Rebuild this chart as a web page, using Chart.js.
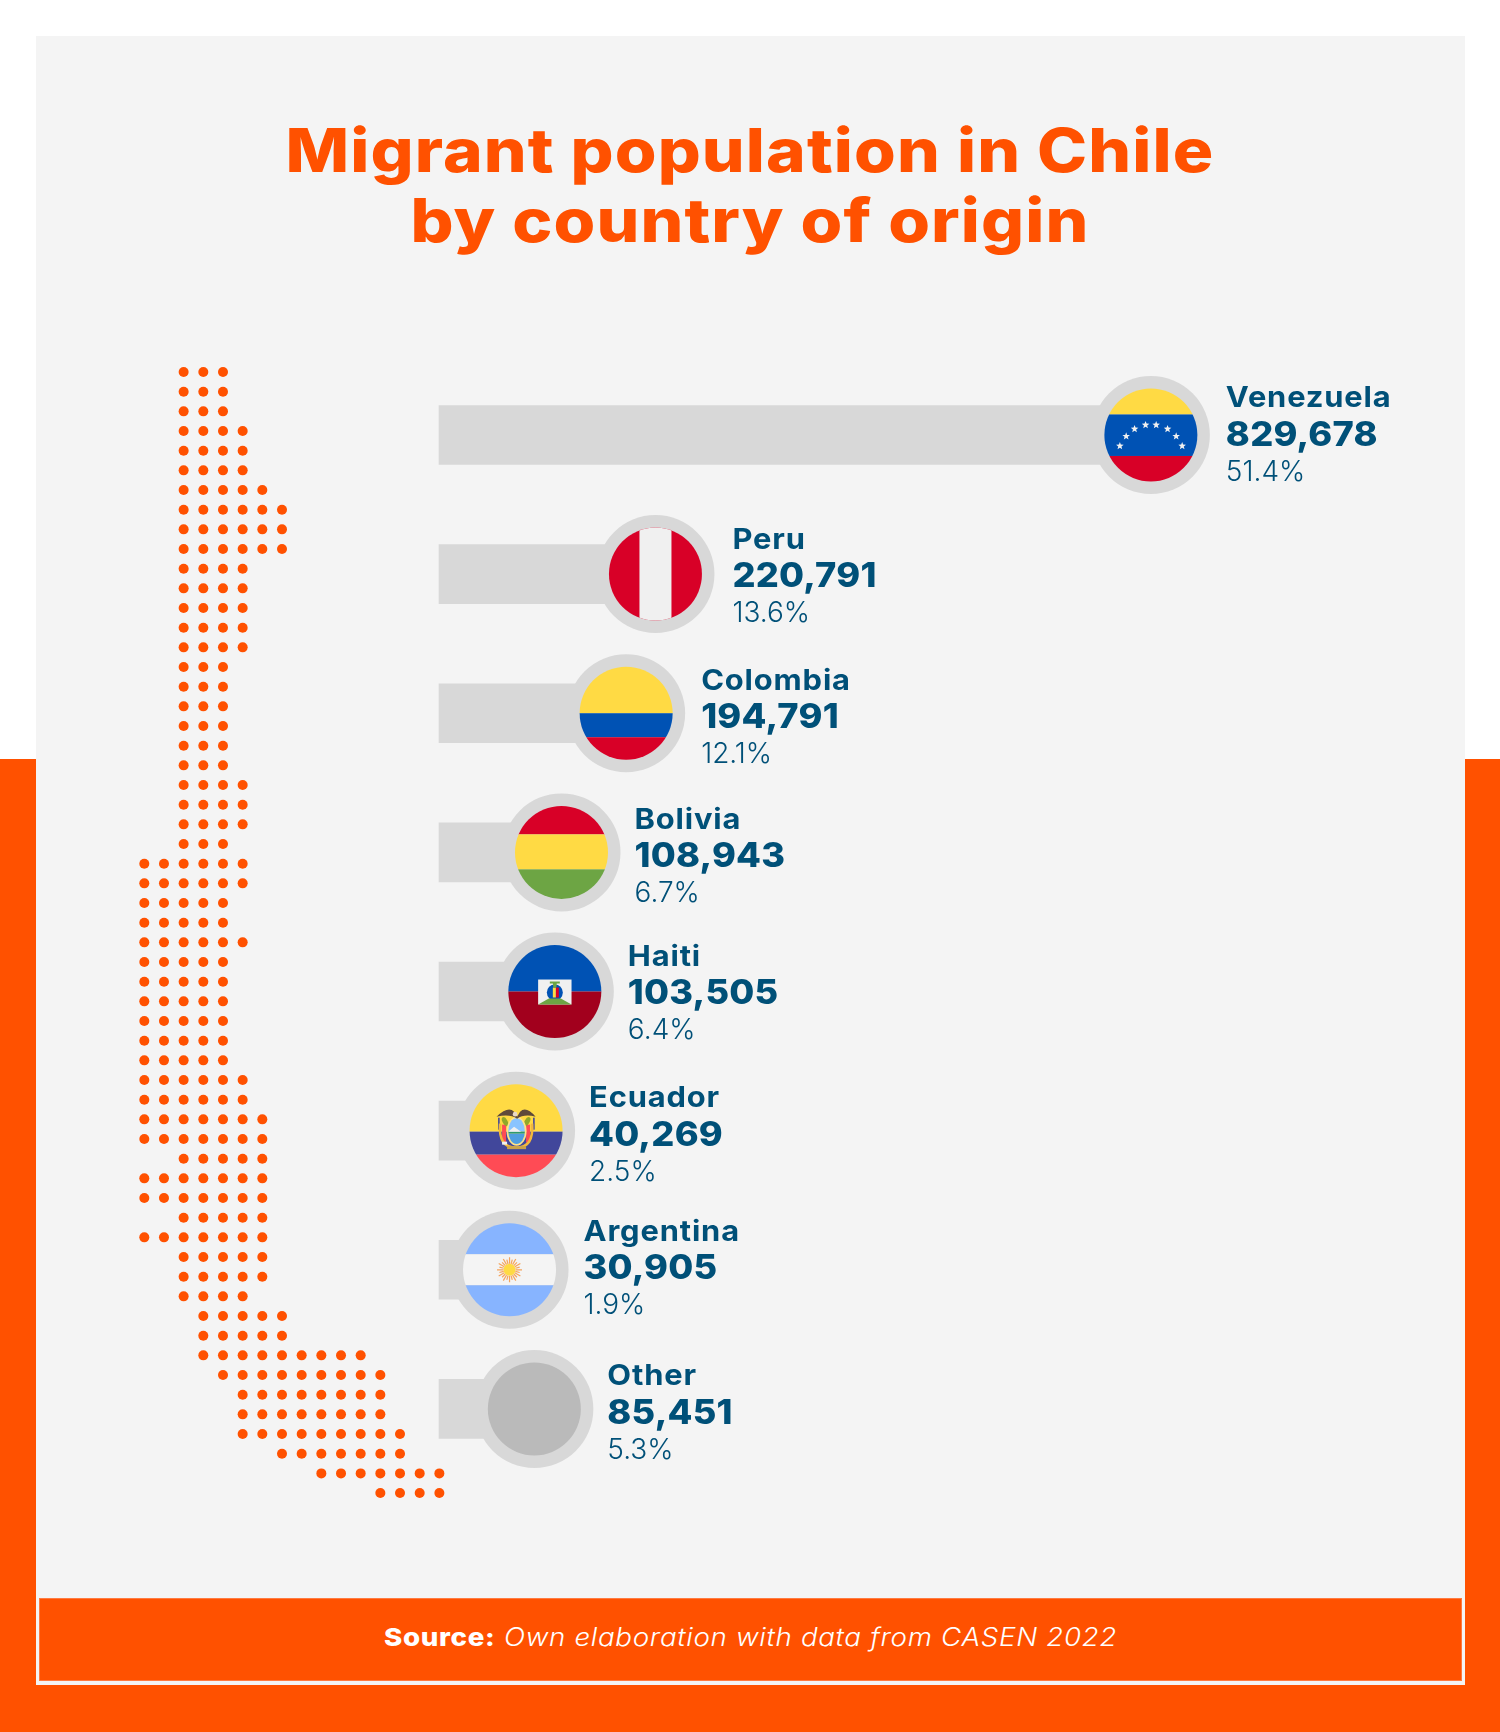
<!DOCTYPE html>
<html>
<head>
<meta charset="utf-8">
<title>Migrant population in Chile by country of origin</title>
<script src="https://cdn.jsdelivr.net/npm/chart.js@4"></script>
<style>
  html, body { margin: 0; padding: 0; background: #fff; }
  #page { position: relative; width: 1500px; height: 1732px; overflow: hidden; background: #fff; font-family: Inter, sans-serif; }
  #band { position: absolute; left: 0; top: 759px; width: 1500px; height: 973px; background: #ff5100; }
  #panel { position: absolute; left: 36px; top: 36px; width: 1429px; height: 1649px; background: #f4f4f4; }
  #footer { position: absolute; left: 39px; top: 1598px; width: 1421px; height: 81px; background: #ff5100; border: 1px solid #ff7a40;
            color: #fff; text-align: center; line-height: 77px; font-size: 25px; letter-spacing: 0.6px; }
  #footer span { display: inline-block; transform: scaleX(1.109); }
  #footer b { font-weight: 800; }
  #footer i { font-weight: 300; }
  #title { position: absolute; left: 0; top: 115px; width: 1500px; text-align: center; color: #ff5100;
           font-size: 60px; font-weight: 800; line-height: 70px; letter-spacing: 1px; transform: scaleX(1.125); }
  canvas { position: absolute; left: 0; top: 0; }
</style>
</head>
<body>
<div id="page">
  <div id="band"></div>
  <div id="panel"></div>
  <div id="title">Migrant population in Chile<br>by country of origin</div>
  <canvas id="chart-dots" width="1500" height="1732"></canvas>
  <canvas id="chart-bars" width="1500" height="1732"></canvas>
  <div id="footer"><span><b>Source:</b> <i>Own elaboration with data from CASEN 2022</i></span></div>
</div>

<script>
const countries = ['Venezuela', 'Peru', 'Colombia', 'Bolivia', 'Haiti', 'Ecuador', 'Argentina', 'Other'];
const migrants  = [829678, 220791, 194791, 108943, 103505, 40269, 30905, 85451];
const shares    = [51.4, 13.6, 12.1, 6.7, 6.4, 2.5, 1.9, 5.3];

// Map dots: one [first column, last column] per row, top to bottom
const dotRows = [
  [2,4],[2,4],[2,4],[2,5],[2,5],[2,5],[2,6],[2,7],[2,7],[2,7],
  [2,5],[2,5],[2,5],[2,5],[2,5],[2,4],[2,4],[2,4],[2,4],[2,4],
  [2,4],[2,5],[2,5],[2,5],[2,4],[0,5],[0,5],[0,4],[0,4],[0,5],
  [0,4],[0,4],[0,4],[0,4],[0,4],[0,4],[0,5],[0,5],[0,6],[0,6],
  [2,6],[0,6],[0,6],[2,6],[0,6],[2,6],[2,6],[2,5],[3,7],[3,7],
  [3,11],[4,12],[5,12],[5,12],[5,13],[7,13],[9,15],[12,15],
];

const ORANGE = '#ff5100';
const BAR_GREY = '#d8d8d8';
const TEXT_BLUE = '#005078';

// The rings sit past the bar tips by a different amount for each row in the original,
// and each text block is nudged on its own too
const ringShift  = [0, 27, 20, 29, 27, 42.5, 44, 22];
const textNudgeX = [0, 2, 0, -2, -2, -2, -1, -2];
const textNudgeY = [1.3, 3.8, 5.5, 5.5, 3.3, 5.7, 0, 5.5];

const dotPoints = [];
dotRows.forEach(([first, last], row) => {
  for (let col = first; col <= last; col++) dotPoints.push({ x: col, y: row });
});

new Chart(document.getElementById('chart-dots'), {
  type: 'scatter',
  data: { datasets: [{ data: dotPoints, backgroundColor: ORANGE, borderWidth: 0, pointRadius: 5, pointHoverRadius: 5 }] },
  options: {
    responsive: false,
    animation: false,
    events: [],
    layout: { padding: 0, autoPadding: false },
    plugins: { legend: { display: false }, tooltip: { enabled: false } },
    scales: {
      x: { display: false, min: -7.336, max: 68.92 },
      y: { display: false, reverse: true, min: -18.915, max: 69.15 },
    },
  },
});

// ----- flags -----
function bands(ctx, c, list) {
  list.forEach(([color, y0, y1]) => {
    ctx.fillStyle = color;
    ctx.fillRect(c.x - 50, c.y + y0, 100, y1 - y0);
  });
}

function star(ctx, x, y, r) {
  ctx.beginPath();
  for (let i = 0; i < 10; i++) {
    const rad = i % 2 ? r * 0.42 : r;
    const a = -Math.PI / 2 + i * Math.PI / 5;
    ctx.lineTo(x + rad * Math.cos(a), y + rad * Math.sin(a));
  }
  ctx.closePath();
  ctx.fill();
}

const flags = {
  Venezuela(ctx, c) {
    bands(ctx, c, [['#ffda44', -50, -20.5], ['#0052b4', -20.5, 21], ['#d80027', 21, 50]]);
    ctx.fillStyle = '#f0f0f0';
    [[-31, 11], [-24.7, 1.3], [-16.3, -6], [-5.3, -10], [5.3, -10], [16.7, -6], [25.3, 1.3], [31.3, 11]]
      .forEach(([dx, dy]) => star(ctx, c.x + dx, c.y + dy, 4));
  },
  Peru(ctx, c) {
    ctx.fillStyle = '#d80027';
    ctx.fillRect(c.x - 50, c.y - 50, 100, 100);
    ctx.fillStyle = '#f0f0f0';
    ctx.fillRect(c.x - 16, c.y - 50, 32, 100);
  },
  Colombia(ctx, c) {
    bands(ctx, c, [['#ffda44', -50, 0], ['#0052b4', 0, 24], ['#d80027', 24, 50]]);
  },
  Bolivia(ctx, c) {
    bands(ctx, c, [['#d80027', -50, -18], ['#ffda44', -18, 17], ['#6da544', 17, 50]]);
  },
  Haiti(ctx, c) {
    bands(ctx, c, [['#0052b4', -50, 0], ['#a2001d', 0, 50]]);
    ctx.fillStyle = '#f0f0f0';
    ctx.fillRect(c.x - 16.7, c.y - 12, 33.4, 25);
    ctx.fillStyle = '#0052b4';
    ctx.beginPath(); ctx.arc(c.x, c.y + 1, 8, 0, Math.PI * 2); ctx.fill();
    ctx.fillStyle = '#d80027';
    ctx.fillRect(c.x + 1, c.y - 4, 3, 10);
    ctx.fillStyle = '#ffda44';
    ctx.fillRect(c.x - 2, c.y - 4, 3, 10);
    ctx.fillStyle = '#6da544';
    ctx.fillRect(c.x - 5, c.y - 10, 10, 2);
    ctx.beginPath();
    ctx.moveTo(c.x - 2, c.y - 9); ctx.lineTo(c.x + 2, c.y - 9); ctx.lineTo(c.x + 1.5, c.y - 4); ctx.lineTo(c.x - 1.5, c.y - 4);
    ctx.closePath(); ctx.fill();
    ctx.beginPath();
    ctx.moveTo(c.x - 16.7, c.y + 13); ctx.lineTo(c.x - 6, c.y + 7); ctx.lineTo(c.x + 6, c.y + 7); ctx.lineTo(c.x + 16.7, c.y + 13);
    ctx.closePath(); ctx.fill();
  },
  Ecuador(ctx, c) {
    bands(ctx, c, [['#ffda44', -50, 1], ['#41479b', 1, 24], ['#ff4b55', 24, 50]]);
    // flags beside the shield
    ctx.fillStyle = '#ff4b55';
    ctx.fillRect(c.x - 14, c.y - 6, 4, 18);
    ctx.fillRect(c.x + 10, c.y - 6, 4, 18);
    ctx.fillStyle = '#41479b';
    ctx.fillRect(c.x - 18, c.y - 13, 1.6, 12);
    ctx.fillRect(c.x + 17, c.y - 13, 1.6, 12);
    // gold frame
    ctx.strokeStyle = '#f2b83c';
    ctx.lineWidth = 2.6;
    ctx.beginPath();
    ctx.moveTo(c.x - 16, c.y - 7);
    ctx.quadraticCurveTo(c.x - 18, c.y + 17, c.x, c.y + 17);
    ctx.quadraticCurveTo(c.x + 18, c.y + 17, c.x + 16, c.y - 7);
    ctx.stroke();
    // leaves
    ctx.fillStyle = '#91a82a';
    ctx.beginPath(); ctx.ellipse(c.x - 11, c.y - 9, 2.5, 5, -0.5, 0, Math.PI * 2); ctx.fill();
    ctx.beginPath(); ctx.ellipse(c.x + 11, c.y - 9, 2.5, 5, 0.5, 0, Math.PI * 2); ctx.fill();
    // oval
    ctx.fillStyle = '#ffe38a';
    ctx.beginPath(); ctx.ellipse(c.x + 0.5, c.y + 0.5, 10, 14.5, 0, 0, Math.PI * 2); ctx.fill();
    ctx.save();
    ctx.beginPath(); ctx.ellipse(c.x + 0.5, c.y + 0.5, 8.3, 12.8, 0, 0, Math.PI * 2); ctx.clip();
    bands(ctx, c, [['#8ac4ff', -14, 1], ['#2e9a6a', 1, 3], ['#4f9ee0', 3, 20]]);
    ctx.fillStyle = '#f0f0f0';
    ctx.beginPath(); ctx.moveTo(c.x - 8, c.y + 1); ctx.lineTo(c.x - 2, c.y - 4); ctx.lineTo(c.x + 5, c.y + 1); ctx.closePath(); ctx.fill();
    ctx.restore();
    // eagle
    ctx.fillStyle = '#5f4a3a';
    ctx.beginPath();
    ctx.moveTo(c.x - 19.5, c.y - 14);
    ctx.quadraticCurveTo(c.x - 8, c.y - 25, c.x - 2, c.y - 19);
    ctx.lineTo(c.x + 1, c.y - 14);
    ctx.lineTo(c.x + 4, c.y - 19);
    ctx.quadraticCurveTo(c.x + 10, c.y - 25, c.x + 19.5, c.y - 14);
    ctx.quadraticCurveTo(c.x + 8, c.y - 17, c.x + 1, c.y - 12);
    ctx.quadraticCurveTo(c.x - 6, c.y - 17, c.x - 19.5, c.y - 14);
    ctx.closePath(); ctx.fill();
    ctx.fillStyle = '#e8d8c8';
    ctx.beginPath(); ctx.arc(c.x - 1, c.y - 16.5, 2.3, 0, Math.PI * 2); ctx.fill();
    // base
    ctx.fillStyle = '#c9a24a';
    ctx.fillRect(c.x - 9, c.y + 15.5, 19, 3);
    ctx.fillStyle = '#f0f0f0';
    ctx.fillRect(c.x - 14, c.y + 11, 5, 3);
  },
  Argentina(ctx, c) {
    bands(ctx, c, [['#87b4ff', -50, -15.5], ['#f4f4f4', -15.5, 15.5], ['#87b4ff', 15.5, 50]]);
    ctx.strokeStyle = '#f5a45c';
    ctx.lineWidth = 1.2;
    for (let i = 0; i < 24; i++) {
      const a = i * Math.PI / 12;
      const outer = i % 2 ? 10.5 : 12.5;
      ctx.beginPath();
      ctx.moveTo(c.x + 6 * Math.cos(a), c.y + 6 * Math.sin(a));
      ctx.lineTo(c.x + outer * Math.cos(a), c.y + outer * Math.sin(a));
      ctx.stroke();
    }
    ctx.fillStyle = '#ffda44';
    ctx.beginPath(); ctx.arc(c.x, c.y, 6, 0, Math.PI * 2); ctx.fill();
  },
  Other(ctx, c) {
    ctx.fillStyle = '#bababa';
    ctx.fillRect(c.x - 50, c.y - 50, 100, 100);
  },
};

// Inter is narrower than the original's typeface, so stretch it a little
function stretchedText(ctx, text, x, y, stretch) {
  ctx.save();
  ctx.translate(x, y);
  ctx.scale(stretch, 1);
  ctx.fillText(text, 0, 0);
  ctx.restore();
}

// Rings, flags and the three text lines, anchored on each bar tip
const ringLabelPlugin = {
  id: 'ringLabels',
  afterDatasetsDraw(chart) {
    const ctx = chart.ctx;
    chart.getDatasetMeta(0).data.forEach((bar, i) => {
      const c = { x: bar.x + ringShift[i], y: bar.y };
      ctx.save();
      ctx.fillStyle = BAR_GREY;
      ctx.beginPath(); ctx.arc(c.x, c.y, 59, 0, Math.PI * 2); ctx.fill();
      ctx.beginPath(); ctx.arc(c.x, c.y, 46.5, 0, Math.PI * 2); ctx.clip();
      flags[countries[i]](ctx, c);
      ctx.restore();

      const textX = c.x + 75 + textNudgeX[i];
      const textY = c.y + textNudgeY[i];
      ctx.save();
      ctx.fillStyle = TEXT_BLUE;
      ctx.textAlign = 'left';
      ctx.textBaseline = 'alphabetic';
      ctx.letterSpacing = '0.8px';
      ctx.font = '700 29px Inter, sans-serif';
      stretchedText(ctx, countries[i], textX, textY - 29, 1.064);
      ctx.letterSpacing = '0.2px';
      ctx.font = '800 34px Inter, sans-serif';
      stretchedText(ctx, migrants[i].toLocaleString('en-US'), textX, textY + 9.5, 1.065);
      ctx.letterSpacing = '0px';
      ctx.font = '300 28px Inter, sans-serif';
      ctx.fillText(shares[i].toFixed(1) + '%', textX, textY + 44.5);
      ctx.restore();
    });
  },
};

new Chart(document.getElementById('chart-bars'), {
  type: 'bar',
  data: {
    labels: countries,
    datasets: [{ data: migrants, backgroundColor: BAR_GREY, borderWidth: 0, barThickness: 59 }],
  },
  options: {
    indexAxis: 'y',
    responsive: false,
    animation: false,
    events: [],
    layout: { padding: { top: 365.4, bottom: 253.5, left: 0, right: 0 } },
    plugins: { legend: { display: false }, tooltip: { enabled: false } },
    scales: {
      x: { display: false, min: -511700, max: 1236600 },
      y: { display: false },
    },
  },
  plugins: [ringLabelPlugin],
});
</script>
</body>
</html>
